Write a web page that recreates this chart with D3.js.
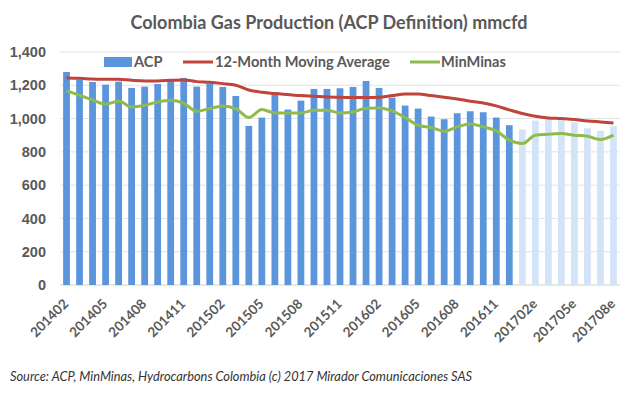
<!DOCTYPE html>
<html lang="en">
<head>
<meta charset="utf-8">
<script src="https://d3js.org/d3.v7.min.js"></script>
<style>
  body { margin: 0; background: #fff; }
  svg { font-family: Lato, "Open Sans", sans-serif; }
</style>
</head>
<body>
<div id="chart"></div>
<script>
// months shown on the x axis (e = estimate)
var months = [
  "201402","201403","201404","201405","201406","201407","201408","201409","201410","201411","201412",
  "201501","201502","201503","201504","201505","201506","201507","201508","201509","201510","201511","201512",
  "201601","201602","201603","201604","201605","201606","201607","201608","201609","201610","201611","201612",
  "201701e","201702e","201703e","201704e","201705e","201706e","201707e","201708e"
];

// ACP production, mmcfd
var acp = [
  1280,1234,1220,1204,1222,1184,1192,1208,1226,1244,1192,
  1210,1190,1136,956,1006,1154,1054,1108,1178,1178,1182,1190,
  1226,1184,1126,1078,1060,1012,996,1032,1044,1038,1006,960,
  936,988,1004,998,978,942,926,954
];

// 12-month moving average
var movingAvg = [
  1244,1242,1238,1236,1236,1230,1226,1226,1230,1232,1222,
  1218,1210,1200,1172,1158,1150,1144,1138,1134,1130,1128,1126,
  1126,1128,1138,1148,1148,1138,1128,1118,1104,1094,1076,1052,
  1030,1014,1004,1000,994,986,980,974
];

// MinMinas series
var minMinas = [
  1166,1140,1112,1086,1106,1070,1080,1100,1110,1092,1044,
  1060,1076,1060,1006,1054,1034,1034,1034,1050,1050,1034,1040,
  1062,1064,1046,1006,960,946,924,950,968,950,926,870,
  850,900,906,910,900,894,874,900
];

var estimateFrom = 35; // first estimated month
var yTicks = [0,200,400,600,800,1000,1200,1400];
var xTicks = months.filter(function(d, i){ return i % 3 === 0; });

var W = 640, H = 395;
var margin = {top: 52, right: 20, bottom: 110, left: 60};
var width = W - margin.left - margin.right,
    height = H - margin.top - margin.bottom;

var svg = d3.select("#chart").append("svg")
  .attr("width", W).attr("height", H);

var g = svg.append("g")
  .attr("transform", "translate(" + margin.left + "," + margin.top + ")");

var x = d3.scaleBand().domain(months).range([0, width]).paddingInner(0.48).paddingOuter(0.24);
var y = d3.scaleLinear().domain([0, 1400]).range([height, 0]);

// gridlines
g.append("g").selectAll("line")
  .data(yTicks)
  .enter().append("line")
    .attr("x1", 0).attr("x2", width)
    .attr("y1", function(d){ return y(d); })
    .attr("y2", function(d){ return y(d); })
    .attr("stroke", function(d){ return d === 0 ? "#d0d0d0" : "#e3e3e3"; })
    .attr("stroke-width", 1);

// y axis labels
var yAxis = g.append("g")
  .call(d3.axisLeft(y).tickValues(yTicks).tickFormat(d3.format(",")).tickSize(0).tickPadding(14));
yAxis.select(".domain").remove();
yAxis.selectAll("text")
  .attr("fill", "#595959")
  .style("font-size", "14.5px")
  .style("font-weight", "bold");

// bars
g.append("g").selectAll("rect")
  .data(acp)
  .enter().append("rect")
    .attr("x", function(d, i){ return x(months[i]); })
    .attr("y", function(d){ return y(d); })
    .attr("width", x.bandwidth())
    .attr("height", function(d){ return height - y(d); })
    .attr("fill", function(d, i){ return i >= estimateFrom ? "#d3e4f8" : "#5b95dc"; });

// lines
var line = d3.line()
  .x(function(d, i){ return x(months[i]) + x.bandwidth() / 2; })
  .y(function(d){ return y(d); })
  .curve(d3.curveMonotoneX);

g.append("path").datum(movingAvg)
  .attr("fill", "none").attr("stroke", "#c0433c").attr("stroke-width", 3)
  .attr("d", line);

g.append("path").datum(minMinas)
  .attr("fill", "none").attr("stroke", "#8fbb4c").attr("stroke-width", 3)
  .attr("d", line);

// x labels every 3 months, rotated
g.append("g").selectAll("text")
  .data(xTicks)
  .enter().append("text")
    .attr("transform", function(d){
      return "translate(" + (x(d) + x.bandwidth() / 2 - 4) + "," + (height + 13) + ") rotate(-45)";
    })
    .attr("text-anchor", "end")
    .attr("dy", "0.7em")
    .attr("fill", "#595959")
    .style("font-size", "13.5px")
    .style("font-weight", "bold")
    .text(function(d){ return d; });

// title
svg.append("text")
  .attr("x", 329).attr("y", 29)
  .attr("text-anchor", "middle")
  .attr("fill", "#595959")
  .style("font-size", "18px")
  .style("font-weight", "bold")
  .text("Colombia Gas Production (ACP Definition) mmcfd");

// legend
var legend = svg.append("g").attr("transform", "translate(0,62)");
legend.append("rect").attr("x", 104).attr("y", -5).attr("width", 28).attr("height", 10).attr("fill", "#5b95dc");
legend.append("text").attr("x", 134).attr("y", 5).text("ACP");
legend.append("line").attr("x1", 183).attr("x2", 213).attr("y1", 0).attr("y2", 0)
  .attr("stroke", "#c0433c").attr("stroke-width", 3);
legend.append("text").attr("x", 215).attr("y", 5).text("12-Month Moving Average");
legend.append("line").attr("x1", 410).attr("x2", 440).attr("y1", 0).attr("y2", 0)
  .attr("stroke", "#8fbb4c").attr("stroke-width", 3);
legend.append("text").attr("x", 441).attr("y", 5).text("MinMinas");
legend.selectAll("text")
  .attr("fill", "#595959")
  .style("font-size", "14.6px")
  .style("font-weight", "bold");

// source
svg.append("text")
  .attr("x", 10).attr("y", 381)
  .attr("fill", "#333")
  .style("font-size", "12.8px")
  .style("font-style", "italic")
  .text("Source: ACP, MinMinas, Hydrocarbons Colombia (c) 2017 Mirador Comunicaciones SAS");
</script>
</body>
</html>
